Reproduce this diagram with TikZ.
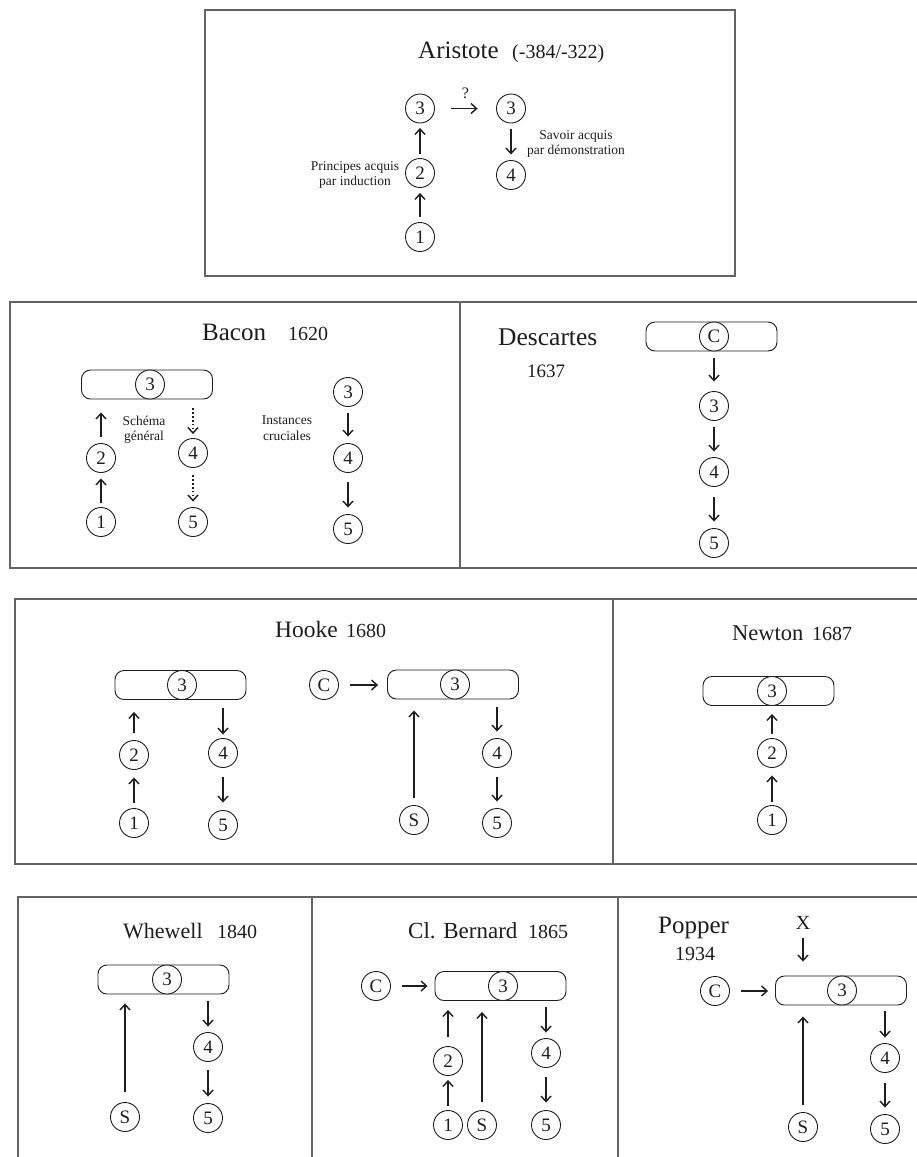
\documentclass[tikz,border=0pt]{standalone}
\usepackage{fontspec}
\setmainfont{Liberation Serif}
\usetikzlibrary{arrows.meta}
\definecolor{boxgray}{RGB}{100,100,100}
\definecolor{ink}{RGB}{30,30,30}
\begin{document}
\begin{tikzpicture}[x=1pt,y=-1pt,
  frame/.style={draw=boxgray, line width=1.5pt},
  cir/.style={circle, draw=ink, fill=white, line width=0.9pt, minimum size=29pt, inner sep=0pt, font=\fontsize{19}{19}\selectfont, text=ink},
  pill/.style={draw=ink, rounded corners=9pt, minimum width=131pt, minimum height=29pt, inner sep=0pt, line width=0.9pt},
  arr/.style={draw=ink, line width=1.4pt, -{Straight Barb[length=5.5pt,width=10pt]}},
  darr/.style={arr, dash pattern=on 1.4pt off 2.5pt},
  ttl/.style={anchor=base west, inner sep=0pt, text=ink, font=\fontsize{#1}{#1}\selectfont},
  yr/.style={anchor=base west, inner sep=0pt, text=ink, font=\fontsize{#1}{#1}\selectfont},
  lab/.style={align=center, inner sep=0pt, text=ink, font=\fontsize{13.5}{15.5}\selectfont},
]
\useasboundingbox (0,0) rectangle (916,1157);
\fill[white] (0,0) rectangle (916,1157);

% frames
\draw[frame] (205,10) rectangle (735,276);
\draw[frame] (10,302) rectangle (918,568);
\draw[frame] (460,302) -- (460,568);
\draw[frame] (15,599) rectangle (918,864);
\draw[frame] (613,599) -- (613,864);
\draw[frame] (18,1162) -- (18,897) -- (918,897);
\draw[frame] (312,897) -- (312,1162);
\draw[frame] (618,897) -- (618,1162);

% ---------------- Aristote
\node[ttl=25] (aT) at (418,58) {Aristote};
\node[yr=20] (aY) at (512,58) {(-384/-322)};
\node[cir] (a3) at (420,108.5) {3};
\node[cir] (a2) at (420,173) {2};
\node[cir] (a1) at (420,237) {1};
\node[cir] (a3r) at (511,108.5) {3};
\node[cir] (a4) at (511,175) {4};
\node[lab] (aL) at (355,175) {Principes acquis\\par induction};
\node[lab] (aR) at (576,144) {Savoir acquis\\par démonstration};
\draw[arr, shorten <=5pt, shorten >=5pt] (a1) -- (a2);
\draw[arr, shorten <=4.5pt, shorten >=4.5pt] (a2) -- (a3);
\draw[arr, shorten <=16.5pt, shorten >=18.5pt] (a3) -- node[above=9pt, inner sep=0pt, text=ink, font=\fontsize{16}{16}\selectfont] (aQ) {?} (a3r);
\draw[arr, shorten <=5.5pt, shorten >=5.5pt] (a3r) -- (a4);

% ---------------- Bacon
\node[ttl=25] (bT) at (202,340) {Bacon};
\node[yr=20] (bY) at (288,340) {1620};
\node[pill] (bR) at (147,384.5) {};
\node[cir] (b3) at (150,384.5) {3};
\node[cir] (b2) at (101,458) {2};
\node[cir] (b1) at (101,522) {1};
\node[cir] (b4) at (193,453) {4};
\node[cir] (b5) at (193,522) {5};
\node[lab] (bL) at (144,430) {Schéma\\général};
\node[cir] (c3) at (348,392) {3};
\node[cir] (c4) at (348,458) {4};
\node[cir] (c5) at (348,529) {5};
\node[lab] (cL) at (287,428) {Instances\\cruciales};
\draw[arr, shorten <=4.5pt, shorten >=5.5pt] (b1) -- (b2);
\draw[arr, shorten <=6.5pt, shorten >=13pt] (b2) -- (b2 |- bR.south);
\draw[darr, shorten <=9pt, shorten >=4pt] (bR.south -| b4) -- (b4);
\draw[darr, shorten <=7.5pt, shorten >=5.5pt] (b4) -- (b5);
\draw[arr, shorten <=6.5pt, shorten >=6.5pt] (c3) -- (c4);
\draw[arr, shorten <=9.5pt, shorten >=6.5pt] (c4) -- (c5);

% ---------------- Descartes
\node[ttl=25.5] (dT) at (498,345) {Descartes};
\node[yr=19] (dY) at (527,377) {1637};
\node[pill] (dR) at (711.5,336.5) {};
\node[cir] (dC) at (714,336.5) {C};
\node[cir] (d3) at (714,406) {3};
\node[cir] (d4) at (714,472) {4};
\node[cir] (d5) at (714,543) {5};
\draw[arr, shorten <=7pt, shorten >=9.5pt] (dR.south -| dC) -- (d3);
\draw[arr, shorten <=6.5pt, shorten >=5.5pt] (d3) -- (d4);
\draw[arr, shorten <=10.5pt, shorten >=6.5pt] (d4) -- (d5);

% ---------------- Hooke
\node[ttl=23.5] (hT) at (275,637) {Hooke};
\node[yr=20] (hY) at (346,637) {1680};
\node[pill] (hR) at (180.5,685) {};
\node[cir] (h3) at (182,685) {3};
\node[cir] (h2) at (134,755) {2};
\node[cir] (h1) at (134,823) {1};
\node[cir] (h4) at (223,753) {4};
\node[cir] (h5) at (223,825) {5};
\draw[arr, shorten <=5.5pt, shorten >=7.5pt] (h1) -- (h2);
\draw[arr, shorten <=7.5pt, shorten >=12pt] (h2) -- (h2 |- hR.south);
\draw[arr, shorten <=8pt, shorten >=3.5pt] (hR.south -| h4) -- (h4);
\draw[arr, shorten <=9.5pt, shorten >=7.5pt] (h4) -- (h5);
\node[cir] (hC) at (324,685) {C};
\node[pill] (hR2) at (453,684.5) {};
\node[cir] (h3b) at (455,684.5) {3};
\draw[arr, shorten <=11.5pt, shorten >=9pt] (hC) -- (hC -| hR2.west);
\node[cir] (hS) at (414,820) {S};
\node[cir] (h4b) at (497,753) {4};
\node[cir] (h5b) at (497,823) {5};
\draw[arr, shorten <=7.5pt, shorten >=11pt] (hS) -- (hS |- hR2.south);
\draw[arr, shorten <=8pt, shorten >=6.5pt] (hR2.south -| h4b) -- (h4b);
\draw[arr, shorten <=9.5pt, shorten >=6.5pt] (h4b) -- (h5b);

% ---------------- Newton
\node[ttl=22.5] (nT) at (732,640) {Newton};
\node[yr=20] (nY) at (812,640) {1687};
\node[pill] (nR) at (768.5,691) {};
\node[cir] (n3) at (772,691) {3};
\node[cir] (n2) at (772,753) {2};
\node[cir] (n1) at (772,820) {1};
\draw[arr, shorten <=3.5pt, shorten >=7.5pt] (n1) -- (n2);
\draw[arr, shorten <=4pt, shorten >=8pt] (n2) -- (n2 |- nR.south);

% ---------------- Whewell
\node[ttl=22] (wT) at (123,938) {Whewell};
\node[yr=20] (wY) at (217,938) {1840};
\node[pill] (wR) at (163.5,979.5) {};
\node[cir] (w3) at (167,979.5) {3};
\node[cir] (wS) at (125,1117) {S};
\node[cir] (w4) at (208,1047) {4};
\node[cir] (w5) at (208,1118) {5};
\draw[arr, shorten <=10.5pt, shorten >=9pt] (wS) -- (wS |- wR.south);
\draw[arr, shorten <=7pt, shorten >=5.5pt] (wR.south -| w4) -- (w4);
\draw[arr, shorten <=8.5pt, shorten >=6.5pt] (w4) -- (w5);

% ---------------- Cl. Bernard
\node[ttl=23] (cbT) at (408,938) {Cl. Bernard};
\node[yr=20] (cbY) at (528,938) {1865};
\node[cir] (cbC) at (376,986) {C};
\node[pill] (cbR) at (500.5,986) {};
\node[cir] (cb3) at (503,986) {3};
\draw[arr, shorten <=11.5pt, shorten >=7pt] (cbC) -- (cbC -| cbR.west);
\node[cir] (cb2) at (448,1061) {2};
\node[cir] (cb1) at (448,1125) {1};
\node[cir] (cbS) at (482,1125) {S};
\node[cir] (cb4) at (546,1053) {4};
\node[cir] (cb5) at (546,1125) {5};
\draw[arr, shorten <=4pt, shorten >=4pt] (cb1) -- (cb2);
\draw[arr, shorten <=9.5pt, shorten >=9pt] (cb2) -- (cb2 |- cbR.south);
\draw[arr, shorten <=8.5pt, shorten >=11pt] (cbS) -- (cbS |- cbR.south);
\draw[arr, shorten <=6pt, shorten >=5.5pt] (cbR.south -| cb4) -- (cb4);
\draw[arr, shorten <=9.5pt, shorten >=7.5pt] (cb4) -- (cb5);

% ---------------- Popper
\node[ttl=25] (pT) at (658,933) {Popper};
\node[yr=20] (pY) at (675,960) {1934};
\node[inner sep=0pt, text=ink, font=\fontsize{20}{20}\selectfont] (pX) at (803,923) {X};
\node[pill] (pR) at (841,990.5) {};
\node[cir] (p3) at (842,990.5) {3};
\node[cir] (pC) at (715,991) {C};
\node[cir] (pS) at (803,1127) {S};
\node[cir] (p4) at (885,1058) {4};
\node[cir] (p5) at (885,1129) {5};
\draw[arr, shorten <=8pt, shorten >=14pt] (pX) -- (pX |- pR.north);
\draw[arr, shorten <=11.5pt, shorten >=7pt] (pC) -- (pC -| pR.west);
\draw[arr, shorten <=7.5pt, shorten >=11pt] (pS) -- (pS |- pR.south);
\draw[arr, shorten <=6pt, shorten >=5.5pt] (pR.south -| p4) -- (p4);
\draw[arr, shorten <=10.5pt, shorten >=6.5pt] (p4) -- (p5);
\end{tikzpicture}
\end{document}
